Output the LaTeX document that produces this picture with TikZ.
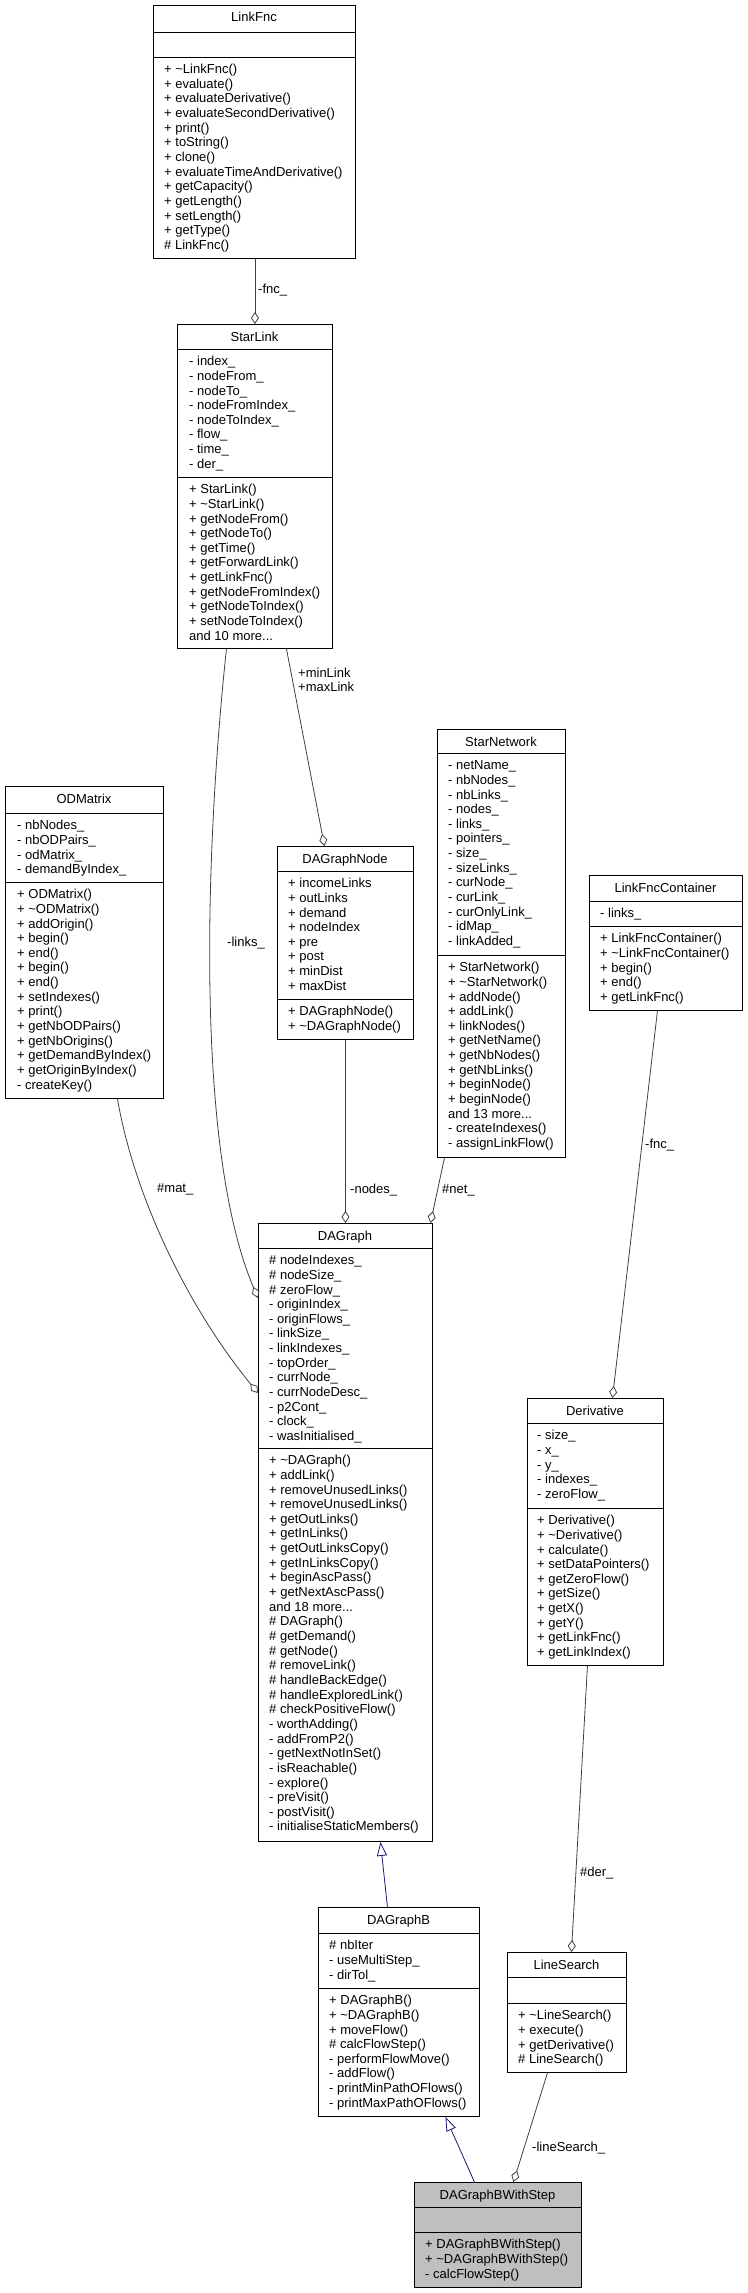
\documentclass[tikz,border=0pt]{standalone}
\usepackage{fontspec}
\setmainfont{Liberation Sans}
\usetikzlibrary{arrows.meta}
\definecolor{edgegray}{HTML}{404040}
\definecolor{inhblue}{HTML}{191970}
\definecolor{focusgray}{HTML}{BFBFBF}
\newcommand\tl{\textasciitilde}
\newcommand\umlsect[4]{\node[sectxt] (#1) at (#2,#3+6.5) {\rule{0pt}{10pt}#4};}
\newcommand\umltitle[4]{\node[ttlstyle] (#1) at (#2,#3+17) {#4};}
\begin{document}
\begin{tikzpicture}[x=1pt,y=-1pt,
  umlbox/.style={draw=black, fill=white, line width=0.9pt, inner sep=0pt, anchor=north west},
  sepline/.style={draw=black, line width=0.9pt},
  sectxt/.style={inner sep=0pt, align=left, anchor=north west, font=\fontsize{13}{14.65}\selectfont},
  ttlstyle/.style={inner sep=0pt, anchor=base, font=\fontsize{13}{14.65}\selectfont},
  lbl/.style={inner sep=0pt, font=\fontsize{13}{13.5}\selectfont},
  aggr/.style={draw=edgegray, line width=0.8pt, -{Diamond[open, length=12pt, width=8pt]}},
  inh/.style={draw=inhblue, line width=0.8pt, -{Triangle[open, length=14pt, width=10pt]}},
]
\useasboundingbox (0,0) rectangle (747,2293);

% ---------- boxes ----------
% LinkFnc
\node[umlbox, minimum width=202pt, minimum height=253pt] (linkfnc) at (153,5) {};
\draw[sepline] (153,32) -- (355,32);
\draw[sepline] (153,57) -- (355,57);
\umltitle{linkfnc-t}{254}{5}{LinkFnc}
\umlsect{linkfnc-m}{164}{57}{+ \tl LinkFnc()\\+ evaluate()\\+ evaluateDerivative()\\+ evaluateSecondDerivative()\\+ print()\\+ toString()\\+ clone()\\+ evaluateTimeAndDerivative()\\+ getCapacity()\\+ getLength()\\+ setLength()\\+ getType()\\\# LinkFnc()}

% StarLink
\node[umlbox, minimum width=155pt, minimum height=324pt] (starlink) at (177,324) {};
\draw[sepline] (177,349) -- (332,349);
\draw[sepline] (177,477) -- (332,477);
\umltitle{starlink-t}{254.5}{324}{StarLink}
\umlsect{starlink-a}{189}{349}{- index\_\\- nodeFrom\_\\- nodeTo\_\\- nodeFromIndex\_\\- nodeToIndex\_\\- flow\_\\- time\_\\- der\_}
\umlsect{starlink-m}{189}{477}{+ StarLink()\\+ \tl StarLink()\\+ getNodeFrom()\\+ getNodeTo()\\+ getTime()\\+ getForwardLink()\\+ getLinkFnc()\\+ getNodeFromIndex()\\+ getNodeToIndex()\\+ setNodeToIndex()\\and 10 more...}

% ODMatrix
\node[umlbox, minimum width=158pt, minimum height=312pt] (odmatrix) at (5,786) {};
\draw[sepline] (5,813) -- (163,813);
\draw[sepline] (5,882) -- (163,882);
\umltitle{odmatrix-t}{84}{786}{ODMatrix}
\umlsect{odmatrix-a}{17}{813}{- nbNodes\_\\- nbODPairs\_\\- odMatrix\_\\- demandByIndex\_}
\umlsect{odmatrix-m}{17}{882}{+ ODMatrix()\\+ \tl ODMatrix()\\+ addOrigin()\\+ begin()\\+ end()\\+ begin()\\+ end()\\+ setIndexes()\\+ print()\\+ getNbODPairs()\\+ getNbOrigins()\\+ getDemandByIndex()\\+ getOriginByIndex()\\- createKey()}

% DAGraphNode
\node[umlbox, minimum width=136pt, minimum height=193pt] (dagraphnode) at (277,846) {};
\draw[sepline] (277,871) -- (413,871);
\draw[sepline] (277,999) -- (413,999);
\umltitle{dagraphnode-t}{345}{846}{DAGraphNode}
\umlsect{dagraphnode-a}{288}{871}{+ incomeLinks\\+ outLinks\\+ demand\\+ nodeIndex\\+ pre\\+ post\\+ minDist\\+ maxDist}
\umlsect{dagraphnode-m}{288}{999}{+ DAGraphNode()\\+ \tl DAGraphNode()}

% StarNetwork
\node[umlbox, minimum width=128pt, minimum height=428pt] (starnetwork) at (437,729) {};
\draw[sepline] (437,753) -- (565,753);
\draw[sepline] (437,955) -- (565,955);
\umltitle{starnetwork-t}{501}{729}{StarNetwork}
\umlsect{starnetwork-a}{448}{753}{- netName\_\\- nbNodes\_\\- nbLinks\_\\- nodes\_\\- links\_\\- pointers\_\\- size\_\\- sizeLinks\_\\- curNode\_\\- curLink\_\\- curOnlyLink\_\\- idMap\_\\- linkAdded\_}
\umlsect{starnetwork-m}{448}{955}{+ StarNetwork()\\+ \tl StarNetwork()\\+ addNode()\\+ addLink()\\+ linkNodes()\\+ getNetName()\\+ getNbNodes()\\+ getNbLinks()\\+ beginNode()\\+ beginNode()\\and 13 more...\\- createIndexes()\\- assignLinkFlow()}

% LinkFncContainer
\node[umlbox, minimum width=153pt, minimum height=135pt] (linkfnccont) at (589,875) {};
\draw[sepline] (589,901) -- (742,901);
\draw[sepline] (589,926) -- (742,926);
\umltitle{linkfnccont-t}{665.5}{875}{LinkFncContainer}
\umlsect{linkfnccont-a}{600}{901}{- links\_}
\umlsect{linkfnccont-m}{600}{926}{+ LinkFncContainer()\\+ \tl LinkFncContainer()\\+ begin()\\+ end()\\+ getLinkFnc()}

% DAGraph
\node[umlbox, minimum width=174pt, minimum height=618pt] (dagraph) at (258,1223) {};
\draw[sepline] (258,1248) -- (432,1248);
\draw[sepline] (258,1448) -- (432,1448);
\umltitle{dagraph-t}{345}{1223}{DAGraph}
\umlsect{dagraph-a}{269}{1248}{\# nodeIndexes\_\\\# nodeSize\_\\\# zeroFlow\_\\- originIndex\_\\- originFlows\_\\- linkSize\_\\- linkIndexes\_\\- topOrder\_\\- currNode\_\\- currNodeDesc\_\\- p2Cont\_\\- clock\_\\- wasInitialised\_}
\umlsect{dagraph-m}{269}{1448}{+ \tl DAGraph()\\+ addLink()\\+ removeUnusedLinks()\\+ removeUnusedLinks()\\+ getOutLinks()\\+ getInLinks()\\+ getOutLinksCopy()\\+ getInLinksCopy()\\+ beginAscPass()\\+ getNextAscPass()\\and 18 more...\\\# DAGraph()\\\# getDemand()\\\# getNode()\\\# removeLink()\\\# handleBackEdge()\\\# handleExploredLink()\\\# checkPositiveFlow()\\- worthAdding()\\- addFromP2()\\- getNextNotInSet()\\- isReachable()\\- explore()\\- preVisit()\\- postVisit()\\- initialiseStaticMembers()}

% Derivative
\node[umlbox, minimum width=136pt, minimum height=267pt] (derivative) at (527,1398) {};
\draw[sepline] (527,1423) -- (663,1423);
\draw[sepline] (527,1508) -- (663,1508);
\umltitle{derivative-t}{595}{1398}{Derivative}
\umlsect{derivative-a}{537}{1423}{- size\_\\- x\_\\- y\_\\- indexes\_\\- zeroFlow\_}
\umlsect{derivative-m}{537}{1508}{+ Derivative()\\+ \tl Derivative()\\+ calculate()\\+ setDataPointers()\\+ getZeroFlow()\\+ getSize()\\+ getX()\\+ getY()\\+ getLinkFnc()\\+ getLinkIndex()}

% DAGraphB
\node[umlbox, minimum width=161pt, minimum height=209pt] (dagraphb) at (318,1907) {};
\draw[sepline] (318,1933) -- (479,1933);
\draw[sepline] (318,1988) -- (479,1988);
\umltitle{dagraphb-t}{398.5}{1907}{DAGraphB}
\umlsect{dagraphb-a}{329}{1933}{\# nbIter\\- useMultiStep\_\\- dirTol\_}
\umlsect{dagraphb-m}{329}{1988}{+ DAGraphB()\\+ \tl DAGraphB()\\+ moveFlow()\\\# calcFlowStep()\\- performFlowMove()\\- addFlow()\\- printMinPathOFlows()\\- printMaxPathOFlows()}

% LineSearch
\node[umlbox, minimum width=119pt, minimum height=120pt] (linesearch) at (507,1952) {};
\draw[sepline] (507,1977) -- (626,1977);
\draw[sepline] (507,2003) -- (626,2003);
\umltitle{linesearch-t}{566.5}{1952}{LineSearch}
\umlsect{linesearch-m}{518}{2003}{+ \tl LineSearch()\\+ execute()\\+ getDerivative()\\\# LineSearch()}

% DAGraphBWithStep
\node[umlbox, fill=focusgray, minimum width=167pt, minimum height=105pt] (withstep) at (414,2182) {};
\draw[sepline] (414,2207) -- (581,2207);
\draw[sepline] (414,2232) -- (581,2232);
\umltitle{withstep-t}{497.5}{2182}{DAGraphBWithStep}
\umlsect{withstep-m}{425}{2232}{+ DAGraphBWithStep()\\+ \tl DAGraphBWithStep()\\- calcFlowStep()}

% ---------- connectors ----------
\draw[aggr] ([xshift=0.5pt]linkfnc.south) -- (starlink.north);
\node[lbl, anchor=west] (l-fnc1) at (258,290) {-fnc\_};

\draw[aggr] ([xshift=31.5pt]starlink.south) -- ([xshift=-21pt]dagraphnode.north);
\node[lbl, anchor=north west, align=left] (l-minmax) at (298,668) {+minLink\\+maxLink};

\draw[aggr] ([xshift=-28.5pt]starlink.south) .. controls (205,850) and (195,1150) .. ([yshift=-75pt]dagraph.north west);
\node[lbl, anchor=west] (l-links) at (227,943) {-links\_};

\draw[aggr] ([xshift=33pt]odmatrix.south) .. controls (135,1200) and (190,1310) .. ([yshift=-170pt]dagraph.north west);
\node[lbl, anchor=west] (l-mat) at (157,1189) {\#mat\_};

\draw[aggr] (dagraphnode.south) -- (dagraph.north);
\node[lbl, anchor=west] (l-nodes) at (350,1190) {-nodes\_};

\draw[aggr] ([xshift=-57pt]starnetwork.south) -- ([xshift=85pt]dagraph.north);
\node[lbl, anchor=west] (l-net) at (442,1190) {\#net\_};

\draw[aggr] ([xshift=-8.5pt]linkfnccont.south) -- ([xshift=17pt]derivative.north);
\node[lbl, anchor=west] (l-fnc2) at (645,1145) {-fnc\_};

\draw[aggr] ([xshift=-8pt]derivative.south) -- ([xshift=4.5pt]linesearch.north);
\node[lbl, anchor=west] (l-der) at (580,1873) {\#der\_};

\draw[inh] ([xshift=-11.5pt]dagraphb.north) -- ([xshift=35pt]dagraph.south);
\draw[inh] ([xshift=-23.5pt]withstep.north) -- ([xshift=46.5pt]dagraphb.south);

\draw[aggr] ([xshift=-19.5pt]linesearch.south) -- ([xshift=15.5pt]withstep.north);
\node[lbl, anchor=west] (l-ls) at (532,2148) {-lineSearch\_};
\end{tikzpicture}
\end{document}
